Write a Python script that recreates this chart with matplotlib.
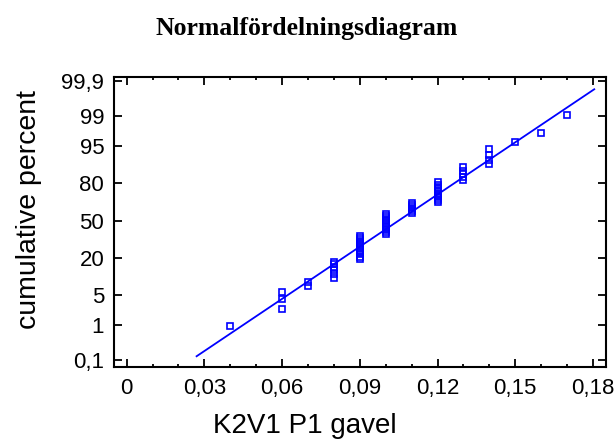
import numpy as np
import matplotlib
matplotlib.use("Agg")
import matplotlib.pyplot as plt
from matplotlib.ticker import FixedLocator, MultipleLocator, FuncFormatter
from statistics import NormalDist

plt.rcParams["font.family"] = ["Liberation Sans", "DejaVu Sans"]

# measured values (K2V1 P1 gavel) and how many times each occurs
values = [0.04, 0.06, 0.07, 0.08, 0.09, 0.10, 0.11, 0.12, 0.13, 0.14, 0.15, 0.16, 0.17]
counts = [1, 3, 2, 6, 12, 12, 6, 10, 5, 4, 1, 1, 1]

# fitted normal line
fit_mean = 0.105
fit_sd = 0.0259
fit_x = [0.027, 0.1805]

pct_ticks = [0.1, 1, 5, 20, 50, 80, 95, 99, 99.9]
x_ticks = [0, 0.03, 0.06, 0.09, 0.12, 0.15, 0.18]

nd = NormalDist()

def to_z(p):
    p = np.asarray(p, dtype=float)
    out = np.empty_like(p)
    for k, v in np.ndenumerate(p):
        v = min(max(v, 1e-9), 100 - 1e-9)
        out[k] = nd.inv_cdf(v / 100.0)
    return out

def to_pct(z):
    z = np.asarray(z, dtype=float)
    out = np.empty_like(z)
    for k, v in np.ndenumerate(z):
        out[k] = 100.0 * nd.cdf(v)
    return out

# sorted sample and its cumulative percent (plotting positions)
x = np.repeat(values, counts)
n = len(x)
i = np.arange(1, n + 1)
pct = 100.0 * (i - 0.375) / (n + 0.25)

line_pct = to_pct((np.array(fit_x) - fit_mean) / fit_sd)

fig = plt.figure(figsize=(6.16, 4.47), dpi=100)
ax = fig.add_axes([0.185, 0.180, 0.799, 0.648])
ax.set_yscale("function", functions=(to_z, to_pct))

ax.plot(fit_x, line_pct, color="#0000FF", lw=1.3)
ax.plot(x, pct, ls="none", marker="s", ms=4.0, mfc="none", mec="#0000FF", mew=1.2)

ax.set_xlim(-0.0049, 0.1851)
ax.set_ylim(float(to_pct(-3.24)), float(to_pct(3.19)))

comma = lambda v, pos: ("%g" % v).replace(".", ",")
ax.xaxis.set_major_locator(FixedLocator(x_ticks))
ax.xaxis.set_minor_locator(MultipleLocator(0.01))
ax.xaxis.set_major_formatter(FuncFormatter(comma))
ax.yaxis.set_major_locator(FixedLocator(pct_ticks))
ax.yaxis.set_minor_locator(FixedLocator([]))
ax.yaxis.set_major_formatter(FuncFormatter(comma))

ax.tick_params(which="both", direction="in", top=True, right=True, width=1.3, colors="black")
ax.tick_params(which="major", length=6)
ax.tick_params(which="minor", length=2.5)
ax.tick_params(axis="x", labelsize=16, pad=8.5)
ax.tick_params(axis="y", labelsize=16, pad=7)
for s in ax.spines.values():
    s.set_linewidth(1.5)

ax.set_xlabel("K2V1 P1 gavel", fontsize=20)
ax.set_ylabel("cumulative percent", fontsize=20.5)
ax.xaxis.set_label_coords(0.388, -0.16)
ax.yaxis.set_label_coords(-0.146, 0.543)

fig.text(0.497, 0.937, "Normalfördelningsdiagram", ha="center", va="center",
         fontsize=18.5, fontweight="bold", family="Liberation Serif")

fig.savefig("out.png", dpi=100)
